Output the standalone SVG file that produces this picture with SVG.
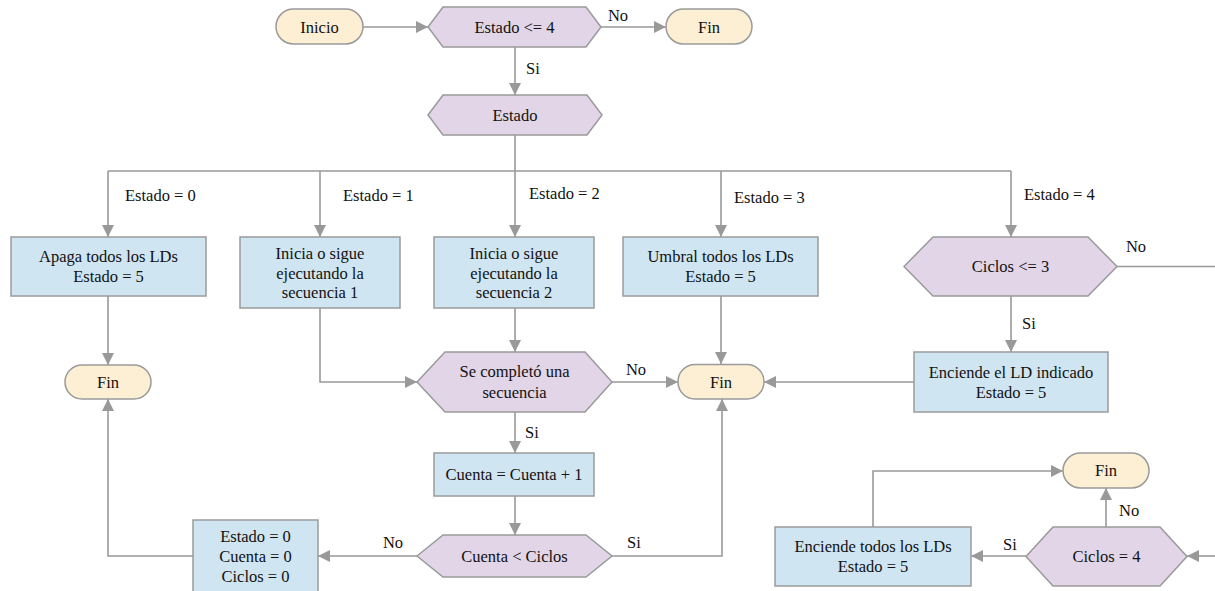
<svg xmlns="http://www.w3.org/2000/svg" width="1215" height="591" viewBox="0 0 1215 591">
<style>
text{font-family:'Liberation Serif','Tinos','Times New Roman','DejaVu Serif',serif;font-size:16.5px;fill:#111;}
.c{text-anchor:middle;}
.term{fill:#fcefd4;stroke:#9a9a9a;stroke-width:1.5;}
.dec{fill:#e1d5e7;stroke:#9a9a9a;stroke-width:1.5;}
.proc{fill:#cfe5f2;stroke:#9a9a9a;stroke-width:1.5;}
.ln{fill:none;stroke:#999;stroke-width:1.6;}
.ar{marker-end:url(#ah);}
</style>
<defs>
<marker id="ah" markerUnits="userSpaceOnUse" markerWidth="13" markerHeight="13" refX="12" refY="6" orient="auto">
<path d="M0,0 L12,6 L0,12 z" fill="#999"/>
</marker>
</defs>
<rect width="1215" height="591" fill="#fff"/>
<g id="connectors" font-family="Liberation Serif, serif">
<path class="ln ar" d="M363,27 H428"/>
<path class="ln ar" d="M601,27 H666"/>
<path class="ln ar" d="M515,47 V95"/>
<path class="ln" d="M515,135 V171 M108,171 H1011"/>
<path class="ln ar" d="M108,171 V237"/>
<path class="ln ar" d="M320,171 V237"/>
<path class="ln ar" d="M515,171 V237"/>
<path class="ln ar" d="M721,171 V237"/>
<path class="ln ar" d="M1011,171 V237"/>
<path class="ln ar" d="M108,296 V365"/>
<path class="ln ar" d="M320,308 V382 H417"/>
<path class="ln ar" d="M515,308 V352"/>
<path class="ln ar" d="M721,296 V364"/>
<path class="ln ar" d="M612,382 H678"/>
<path class="ln ar" d="M914,382 H764"/>
<path class="ln ar" d="M1011,296 V352"/>
<path class="ln" d="M1117,266.5 H1215"/>
<path class="ln ar" d="M515,412 V453"/>
<path class="ln ar" d="M515,496 V535"/>
<path class="ln ar" d="M417,556 H318"/>
<path class="ln ar" d="M193,556 H108 V399"/>
<path class="ln ar" d="M612,556 H722 V399"/>
<path class="ln ar" d="M1026,556 H971"/>
<path class="ln ar" d="M1106,527 V488"/>
<path class="ln ar" d="M873,527 V471 H1063"/>
<path class="ln ar" d="M1215,556 H1187"/>
<text x="618" y="20.5" class="c">No</text>
<text x="526" y="73.5">Si</text>
<text x="125" y="200.5">Estado = 0</text>
<text x="343" y="200.5">Estado = 1</text>
<text x="529" y="198.5">Estado = 2</text>
<text x="734" y="202.5">Estado = 3</text>
<text x="1024" y="199.5">Estado = 4</text>
<text x="636" y="374.5" class="c">No</text>
<text x="1022" y="328.5">Si</text>
<text x="1136" y="251.5" class="c">No</text>
<text x="525" y="437.5">Si</text>
<text x="393" y="547.5" class="c">No</text>
<text x="627" y="547.5">Si</text>
<text x="1003" y="549.5">Si</text>
<text x="1119" y="515.5">No</text>
</g>
<g id="inicio"><rect class="term" x="276" y="9" width="87" height="35" rx="17.5"/><text x="319.5" y="32.5" class="c">Inicio</text></g>
<g id="d-estado4"><polygon class="dec" points="428,27 443,7 586,7 601,27 586,47 443,47"/><text x="514.5" y="32.5" class="c">Estado &lt;= 4</text></g>
<g id="fin-top"><rect class="term" x="666" y="9" width="86" height="35" rx="17.5"/><text x="709" y="32.5" class="c">Fin</text></g>
<g id="d-estado"><polygon class="dec" points="428,115 443,95 587,95 602,115 587,135 443,135"/><text x="515" y="120.5" class="c">Estado</text></g>
<g id="apaga"><rect class="proc" x="11" y="237" width="195" height="59"/><text x="108.5" y="261.5" class="c">Apaga todos los LDs</text><text x="108.5" y="282" class="c">Estado = 5</text></g>
<g id="seq1"><rect class="proc" x="240" y="237" width="160" height="71"/><text x="320" y="259" class="c">Inicia o sigue</text><text x="320" y="278.5" class="c">ejecutando la</text><text x="320" y="298" class="c">secuencia 1</text></g>
<g id="seq2"><rect class="proc" x="434" y="237" width="160" height="71"/><text x="514" y="259" class="c">Inicia o sigue</text><text x="514" y="278.5" class="c">ejecutando la</text><text x="514" y="298" class="c">secuencia 2</text></g>
<g id="umbral"><rect class="proc" x="623" y="237" width="195" height="59"/><text x="720.5" y="261.5" class="c">Umbral todos los LDs</text><text x="720.5" y="282" class="c">Estado = 5</text></g>
<g id="d-ciclos3"><polygon class="dec" points="904,266.5 933,237 1088,237 1117,266.5 1088,296 933,296"/><text x="1010.5" y="272" class="c">Ciclos &lt;= 3</text></g>
<g id="fin-left"><rect class="term" x="65" y="365" width="86" height="34" rx="17"/><text x="108" y="387.5" class="c">Fin</text></g>
<g id="d-completo"><polygon class="dec" points="417,382 445,352 585,352 612,382 585,412 445,412"/><text x="514.5" y="377" class="c">Se completó una</text><text x="514.5" y="397.5" class="c">secuencia</text></g>
<g id="fin-mid"><rect class="term" x="678" y="364.5" width="86" height="34.5" rx="17"/><text x="721" y="387.5" class="c">Fin</text></g>
<g id="enciende-ld"><rect class="proc" x="914" y="352" width="194" height="60"/><text x="1011" y="377.5" class="c">Enciende el LD indicado</text><text x="1011" y="397.5" class="c">Estado = 5</text></g>
<g id="cuenta"><rect class="proc" x="434" y="453" width="160" height="43"/><text x="514" y="480" class="c">Cuenta = Cuenta + 1</text></g>
<g id="d-cuenta"><polygon class="dec" points="417,556 443,535 586,535 612,556 586,577 443,577"/><text x="514.5" y="561.5" class="c">Cuenta &lt; Ciclos</text></g>
<g id="reset"><rect class="proc" x="193" y="520" width="125" height="74"/><text x="255.5" y="541.5" class="c">Estado = 0</text><text x="255.5" y="561.5" class="c">Cuenta = 0</text><text x="255.5" y="582" class="c">Ciclos = 0</text></g>
<g id="fin-br"><rect class="term" x="1063" y="453" width="86" height="35" rx="17.5"/><text x="1106" y="476" class="c">Fin</text></g>
<g id="enciende-todos"><rect class="proc" x="775" y="527" width="196" height="59"/><text x="873" y="552" class="c">Enciende todos los LDs</text><text x="873" y="571.5" class="c">Estado = 5</text></g>
<g id="d-ciclos4"><polygon class="dec" points="1026,556.5 1053,527 1160,527 1187,556.5 1160,586 1053,586"/><text x="1106.5" y="562" class="c">Ciclos = 4</text></g>
</svg>
